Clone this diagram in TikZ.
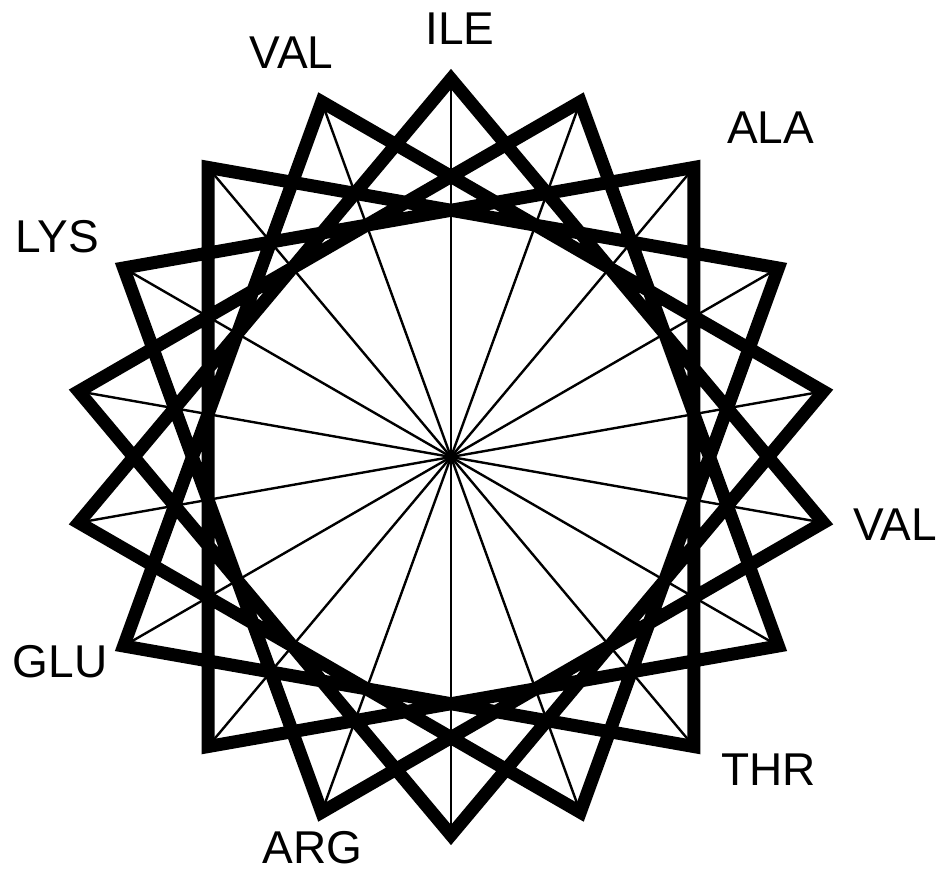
\documentclass[tikz,border=0pt]{standalone}
\usepackage{fontspec}
\setmainfont{Liberation Sans}
\usetikzlibrary{positioning}
\tikzset{
  spoke/.style={line width=2.4pt},
  band/.style={line width=13pt,line join=miter,miter limit=20},
  resid/.style={font=\fontsize{46}{50}\selectfont,inner sep=0pt}
}
\begin{document}
\begin{tikzpicture}[x=1pt,y=1pt]
    \useasboundingbox (-451,-418) rectangle (491,457);
    \coordinate (c) at (0,0);
    % wheel positions, 20 degrees apart
    \foreach \k in {0,...,17}{
      \coordinate (v\k) at ({90+20*\k}:378);
    }
    \foreach \k in {0,...,17}{
      \draw[spoke] (c) -- (v\k);
    }
    % thick star, every step 100 degrees
    \draw[band] (v0)
      \foreach \k [evaluate=\k as \j using {int(mod(5*\k,18))}] in {1,...,17}{ -- (v\j) }
      -- cycle;
    % residue labels
    \foreach \nm/\px/\py/\lbl in {
      ile/9/428/ILE,
      valA/-159.5/404.5/VAL,
      ala/319.5/329/ALA,
      lys/-393.5/220.5/LYS,
      valB/444/-67.5/VAL,
      thr/317.5/-312.5/THR,
      arg/-138.5/-391/ARG,
      glu/-391/-205/GLU%
    }{
      \node[resid] (\nm) at (\px,\py) {\lbl};
    }
  \end{tikzpicture}
\end{document}
